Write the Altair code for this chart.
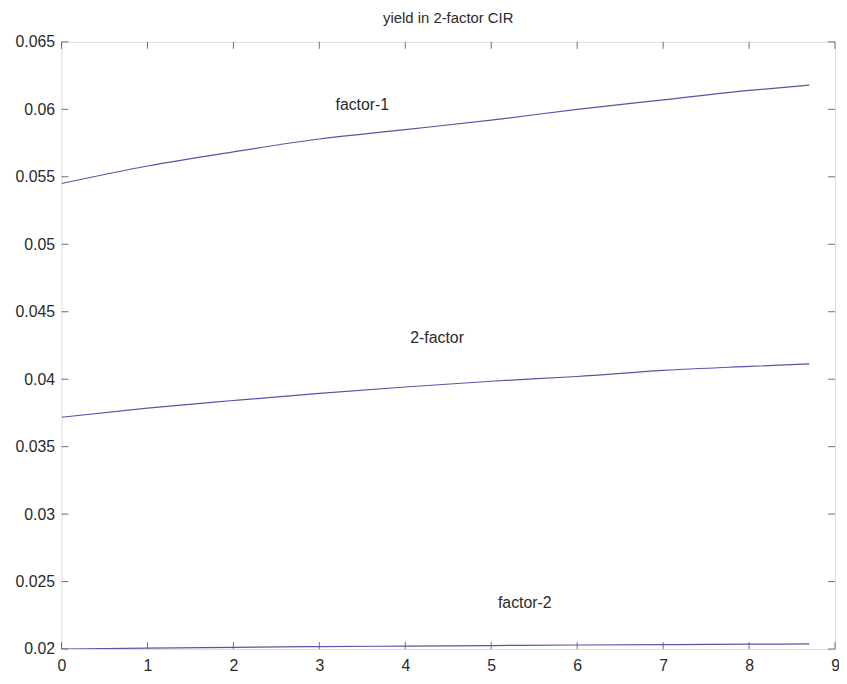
import altair as alt
import pandas as pd

# maturities (years)
maturity = [0, 1, 2, 3, 4, 5, 6, 7, 8, 8.7]
# yields
factor1 = [0.0545, 0.0558, 0.05685, 0.0578, 0.0585, 0.0592, 0.0600, 0.0607, 0.0614, 0.0618]
two_factor = [0.03718, 0.03786, 0.03842, 0.03895, 0.03942, 0.03985, 0.04020, 0.04065, 0.04095, 0.04114]
factor2 = [0.0200, 0.02007, 0.02013, 0.02018, 0.02022, 0.02026, 0.0203, 0.02033, 0.02036, 0.02038]

series_names = ["factor-1", "2-factor", "factor-2"]
label_x = [3.5, 4.37, 5.39]
label_y = [0.06032, 0.04307, 0.02341]

chart_title = ["yield in 2-factor CIR"]

x_ticks = [0, 1, 2, 3, 4, 5, 6, 7, 8, 9]
y_ticks = [0.02, 0.025, 0.03, 0.035, 0.04, 0.045, 0.05, 0.055, 0.06, 0.065]

rows = []
for name, vals in zip(series_names, [factor1, two_factor, factor2]):
    for m, v in zip(maturity, vals):
        rows.append({"series": name, "maturity": m, "yield": v})
df = pd.DataFrame(rows)
labels_df = pd.DataFrame({"text": series_names, "x": label_x, "y": label_y})
title_df = pd.DataFrame({"text": chart_title})
xt = pd.DataFrame({"x": x_ticks})
yt = pd.DataFrame({"y": y_ticks})

W, H = 781, 613
FONT = "Liberation Sans"
FRAME = "#6e6e6e"
TXT = "#2a2a2a"
LINE = "#5656a8"

xscale = alt.Scale(domain=[0, 9], nice=False, zero=False)
yscale = alt.Scale(domain=[0.02, 0.065], nice=False, zero=False)

lines = alt.Chart(df).mark_line(color=LINE, strokeWidth=1.2, clip=True, interpolate="monotone").encode(
    x=alt.X("maturity:Q", scale=xscale,
            axis=alt.Axis(values=x_ticks, title=None, tickSize=0, domain=False, grid=False,
                          labelPadding=9, labelFontSize=16, labelFont=FONT, labelColor=TXT,
                          labelFlush=False, format="d")),
    y=alt.Y("yield:Q", scale=yscale,
            axis=alt.Axis(values=y_ticks, title=None, tickSize=0, domain=False, grid=False,
                          labelPadding=7, labelFontSize=16, labelFont=FONT, labelColor=TXT,
                          labelFlush=False, labelExpr="format(datum.value, '.3~f')")),
    detail="series:N",
)

texts = alt.Chart(labels_df).mark_text(font=FONT, fontSize=16, color=TXT).encode(
    x=alt.X("x:Q", scale=xscale), y=alt.Y("y:Q", scale=yscale), text="text:N"
)

title = alt.Chart(title_df).mark_text(font=FONT, fontSize=15, color=TXT, baseline="alphabetic",
                                      align="center").encode(
    x=alt.value(W / 2), y=alt.value(-19), text="text:N"
)

bt = alt.Chart(xt).mark_rule(color=FRAME, strokeWidth=1).encode(
    x=alt.X("x:Q", scale=xscale), y=alt.value(H), y2=alt.value(H - 7))
tt = alt.Chart(xt).mark_rule(color=FRAME, strokeWidth=1).encode(
    x=alt.X("x:Q", scale=xscale), y=alt.value(0), y2=alt.value(7))
lt = alt.Chart(yt).mark_rule(color=FRAME, strokeWidth=1).encode(
    y=alt.Y("y:Q", scale=yscale), x=alt.value(0), x2=alt.value(7))
rt = alt.Chart(yt).mark_rule(color=FRAME, strokeWidth=1).encode(
    y=alt.Y("y:Q", scale=yscale), x=alt.value(W), x2=alt.value(W - 7))

chart = alt.layer(bt, tt, lt, rt, lines, texts, title).properties(
    width=W, height=H,
    autosize=alt.AutoSizeParams(type="none"),
    padding={"left": 54, "top": 31, "right": 4, "bottom": 24},
).configure_view(stroke=FRAME, strokeWidth=1.2).configure(background="white")

chart.save("out.html", embed_options={"renderer": "svg", "actions": False})
